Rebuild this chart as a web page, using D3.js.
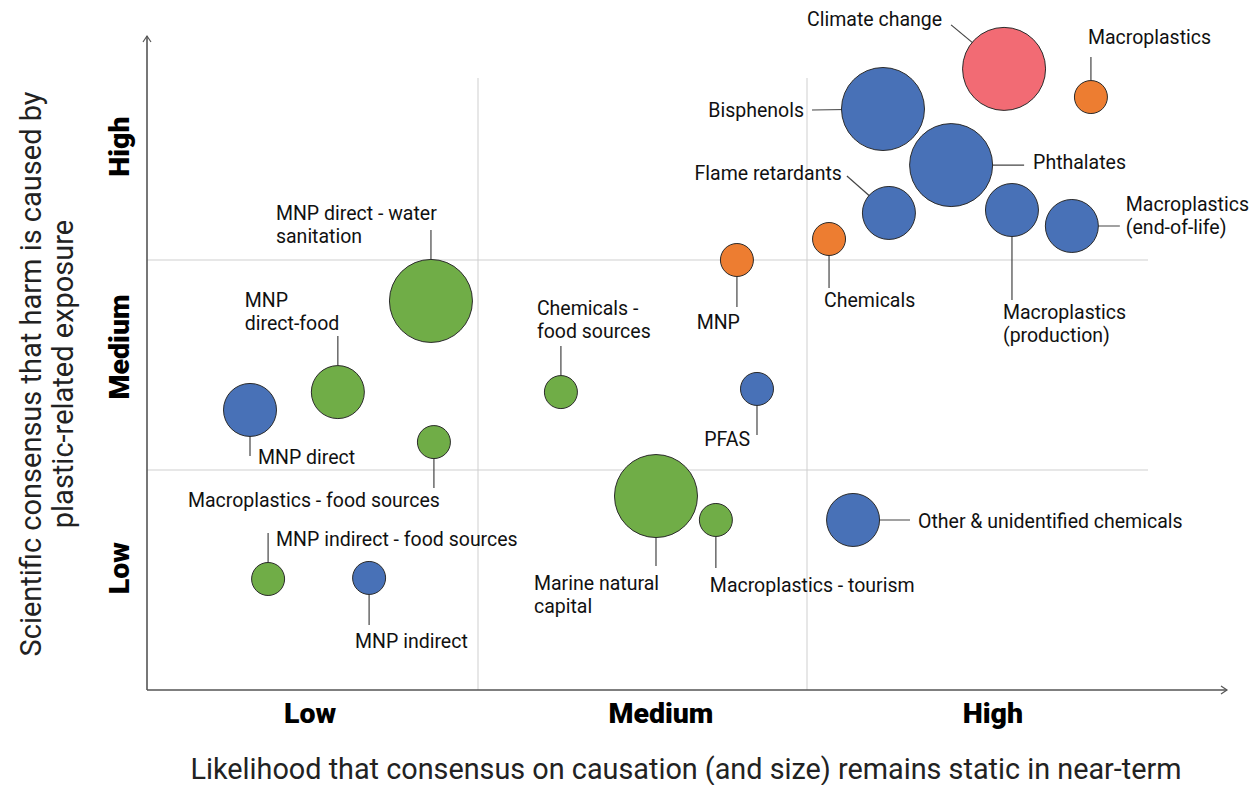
<!DOCTYPE html>
<html>
<head>
<meta charset="utf-8">
<script src="https://cdn.jsdelivr.net/npm/d3@7"></script>
<style>
  html, body { margin: 0; padding: 0; background: #fff; }
  svg { display: block; font-family: Roboto, "Liberation Sans", sans-serif; }
</style>
</head>
<body>
<svg id="chart" width="1257" height="785"></svg>
<script>
// ---------------- DATA ----------------
const names = [
  "Climate change", "Macroplastics", "Bisphenols", "Phthalates", "Flame retardants",
  "Macroplastics (production)", "Macroplastics (end-of-life)", "Chemicals", "MNP",
  "MNP direct - water sanitation", "MNP direct-food", "MNP direct",
  "Macroplastics - food sources", "Chemicals - food sources", "PFAS",
  "Marine natural capital", "Macroplastics - tourism", "Other & unidentified chemicals",
  "MNP indirect - food sources", "MNP indirect"
];
// Likelihood consensus remains static (0 = low edge, 3 = high edge)
const xValues = [2.599, 2.863, 2.231, 2.438, 2.249, 2.623, 2.805, 2.067, 1.787,
                 0.857, 0.574, 0.307, 0.866, 1.252, 1.848, 1.541, 1.723, 2.140, 0.362, 0.669];
// Scientific consensus that harm is caused
const yValues = [2.910, 2.776, 2.719, 2.452, 2.224, 2.238, 2.162, 2.100, 2.000,
                 1.805, 1.371, 1.286, 1.133, 1.371, 1.386, 0.876, 0.762, 0.762, 0.481, 0.486];
// Bubble size class (1 small, 2 medium, 3 large)
const sizes = [3, 1, 3, 3, 2, 2, 2, 1, 1, 3, 2, 2, 1, 1, 1, 3, 1, 2, 1, 1];
// Group
const groups = ["climate", "macro", "chem", "chem", "chem", "chem", "chem", "macro", "macro",
                "econ", "econ", "chem", "econ", "econ", "chem", "econ", "econ", "chem", "econ", "chem"];

const xTickLabels = ["Low", "Medium", "High"];
const xTickValues = [0.49, 1.556, 2.565];
const yTickLabels = ["Low", "Medium", "High"];
const yTickValues = [0.533, 1.586, 2.54];
const gridValues = [1, 2];

const xTitle = "Likelihood that consensus on causation (and size) remains static in near-term";
const yTitleLines = ["Scientific consensus that harm is caused by", "plastic-related exposure"];

// ---------------- LABEL LAYOUT (pixel offsets from bubble centre) ----------------
const labelLayout = {
  "Climate change":                 { lines: ["Climate change"], lx: -53, ly: -44, tx: -62, ty: -43, anchor: "end" },
  "Macroplastics":                  { lines: ["Macroplastics"], lx: 0, ly: -40, tx: -3, ty: -53, anchor: "start" },
  "Bisphenols":                     { lines: ["Bisphenols"], lx: -71, ly: 1, tx: -79, ty: 8, anchor: "end" },
  "Phthalates":                     { lines: ["Phthalates"], lx: 73, ly: 0, tx: 82, ty: 4, anchor: "start" },
  "Flame retardants":               { lines: ["Flame retardants"], lx: -42, ly: -37, tx: -47, ty: -33, anchor: "end" },
  "Macroplastics (production)":     { lines: ["Macroplastics", "(production)"], lx: 0, ly: 90, tx: -9, ty: 109, anchor: "start" },
  "Macroplastics (end-of-life)":    { lines: ["Macroplastics", "(end-of-life)"], lx: 48, ly: 0, tx: 54, ty: -15, anchor: "start" },
  "Chemicals":                      { lines: ["Chemicals"], lx: 0, ly: 49, tx: -5, ty: 68, anchor: "start" },
  "MNP":                            { lines: ["MNP"], lx: 0, ly: 47, tx: 3, ty: 69, anchor: "end" },
  "MNP direct - water sanitation":  { lines: ["MNP direct - water", "sanitation"], lx: 0, ly: -71, tx: -155, ty: -81, anchor: "start" },
  "MNP direct-food":                { lines: ["MNP", "direct-food"], lx: 0, ly: -56, tx: -93, ty: -85, anchor: "start" },
  "MNP direct":                     { lines: ["MNP direct"], lx: 0, ly: 46, tx: 8, ty: 54, anchor: "start" },
  "Macroplastics - food sources":   { lines: ["Macroplastics - food sources"], lx: 0, ly: 46, tx: 6, ty: 65, anchor: "end" },
  "Chemicals - food sources":       { lines: ["Chemicals -", "food sources"], lx: 0, ly: -46, tx: -24, ty: -77, anchor: "start" },
  "PFAS":                           { lines: ["PFAS"], lx: 0, ly: 46, tx: -7, ty: 57, anchor: "end" },
  "Marine natural capital":         { lines: ["Marine natural", "capital"], lx: 0, ly: 70, tx: -122, ty: 94, anchor: "start" },
  "Macroplastics - tourism":        { lines: ["Macroplastics - tourism"], lx: 0, ly: 48, tx: -6, ty: 72, anchor: "start" },
  "Other & unidentified chemicals": { lines: ["Other & unidentified chemicals"], lx: 57, ly: 0, tx: 65, ty: 8, anchor: "start" },
  "MNP indirect - food sources":    { lines: ["MNP indirect - food sources"], lx: 0, ly: -46, tx: 8, ty: -33, anchor: "start" },
  "MNP indirect":                   { lines: ["MNP indirect"], lx: 0, ly: 47, tx: -14, ty: 70, anchor: "start" }
};

// ---------------- CHART ----------------
const svg = d3.select("#chart");
const x = d3.scaleLinear().domain([0, 3]).range([149, 1136]);
const y = d3.scaleLinear().domain([0, 3]).range([680, 50]);
const r = d3.scaleOrdinal().domain([1, 2, 3]).range([16.5, 26.5, 41.5]);
const color = d3.scaleOrdinal()
  .domain(["chem", "econ", "macro", "climate"])
  .range(["#4871B7", "#70AD47", "#ED7D31", "#F26B74"]);

const axisX0 = 147, axisY0 = 690;

// gridlines
svg.append("g").selectAll("line.v").data(gridValues).join("line")
  .attr("x1", d => x(d)).attr("x2", d => x(d))
  .attr("y1", 78).attr("y2", axisY0)
  .attr("stroke", "#cfcfcf").attr("stroke-width", 1);
svg.append("g").selectAll("line.h").data(gridValues).join("line")
  .attr("x1", axisX0).attr("x2", 1148)
  .attr("y1", d => y(d)).attr("y2", d => y(d))
  .attr("stroke", "#cfcfcf").attr("stroke-width", 1);

// axes with arrows
const axisColor = "#555";
const ax = svg.append("g").attr("stroke", axisColor).attr("fill", "none").attr("stroke-width", 1.6);
ax.append("line").attr("x1", axisX0).attr("y1", axisY0).attr("x2", axisX0).attr("y2", 36);
ax.append("path").attr("d", `M${axisX0 - 4},${42} L${axisX0},${36} L${axisX0 + 4},${42}`).attr("stroke-width", 1.2);
ax.append("line").attr("x1", axisX0).attr("y1", axisY0).attr("x2", 1227).attr("y2", axisY0);
ax.append("path").attr("d", `M1221,${axisY0 - 4} L1227,${axisY0} L1221,${axisY0 + 4}`).attr("stroke-width", 1.2);

// tick labels
svg.append("g").selectAll("text").data(xTickLabels).join("text")
  .attr("x", (d, i) => x(xTickValues[i])).attr("y", 723)
  .attr("text-anchor", "middle")
  .attr("font-size", 28.5).attr("font-weight", 900).attr("fill", "#000")
  .text(d => d);
svg.append("g").selectAll("text").data(yTickLabels).join("text")
  .attr("transform", (d, i) => `translate(129,${y(yTickValues[i])}) rotate(-90)`)
  .attr("text-anchor", "middle")
  .attr("font-size", 28.5).attr("font-weight", 900).attr("fill", "#000")
  .text(d => d);

// axis titles
svg.append("text").attr("x", 686).attr("y", 778.5)
  .attr("text-anchor", "middle").attr("font-size", 28.8).attr("fill", "#222")
  .text(xTitle);
svg.append("g").attr("transform", "translate(0,374) rotate(-90)")
  .selectAll("text").data(yTitleLines).join("text")
  .attr("x", 0).attr("y", (d, i) => 41 + i * 32)
  .attr("text-anchor", "middle").attr("font-size", 29).attr("fill", "#222")
  .text(d => d);

// data rows
const rows = names.map((n, i) => ({ name: n, x: xValues[i], y: yValues[i], size: sizes[i], group: groups[i] }));

// leader lines (under bubbles)
svg.append("g").selectAll("line").data(rows).join("line")
  .attr("x1", d => x(d.x)).attr("y1", d => y(d.y))
  .attr("x2", d => x(d.x) + labelLayout[d.name].lx)
  .attr("y2", d => y(d.y) + labelLayout[d.name].ly)
  .attr("stroke", "#444").attr("stroke-width", 1.2);

// bubbles
svg.append("g").selectAll("circle").data(rows).join("circle")
  .attr("cx", d => x(d.x)).attr("cy", d => y(d.y))
  .attr("r", d => r(d.size))
  .attr("fill", d => color(d.group))
  .attr("stroke", "#2a2a2a").attr("stroke-width", 1);

// labels
const lab = svg.append("g").selectAll("text").data(rows).join("text")
  .attr("x", d => x(d.x) + labelLayout[d.name].tx)
  .attr("y", d => y(d.y) + labelLayout[d.name].ty)
  .attr("text-anchor", d => labelLayout[d.name].anchor)
  .attr("font-size", 19.5).attr("fill", "#111");
lab.selectAll("tspan").data(d => labelLayout[d.name].lines.map(t => ({ t, d }))).join("tspan")
  .attr("x", o => x(o.d.x) + labelLayout[o.d.name].tx)
  .attr("dy", (o, i) => i === 0 ? 0 : 23)
  .text(o => o.t);
</script>
</body>
</html>
